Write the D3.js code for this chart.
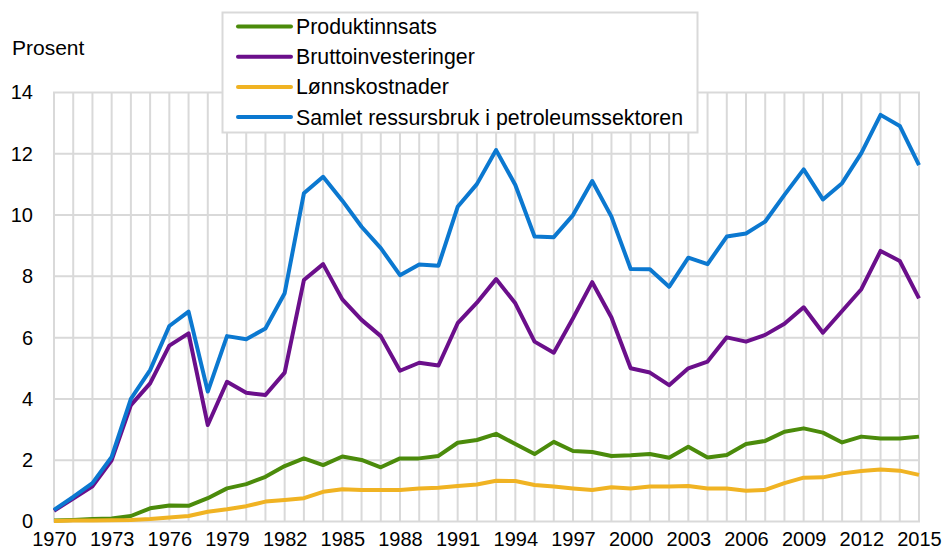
<!doctype html>
<html>
    <head>
        <title>Ressursbruk i petroleumssektoren</title>
        <style>
            body {
                margin: 0;
                overflow: hidden;
                background: #fff;
            }
            text {
                font-family: "Liberation Sans", Arial, sans-serif;
                fill: #000;
            }
        </style>
    </head>
    <body>
        <script src="https://cdn.jsdelivr.net/npm/d3@7"></script>
        <script>

            const years = d3.range(1970, 2016);

            const produktinnsats = [0.03, 0.05, 0.08, 0.1, 0.18, 0.43, 0.52, 0.51, 0.76, 1.08,
                1.22, 1.46, 1.81, 2.06, 1.84, 2.12, 2.01, 1.77, 2.06, 2.06,
                2.14, 2.57, 2.66, 2.86, 2.53, 2.2, 2.6, 2.3, 2.27, 2.14,
                2.16, 2.2, 2.08, 2.44, 2.09, 2.17, 2.53, 2.63, 2.93, 3.04,
                2.9, 2.58, 2.77, 2.71, 2.71, 2.77];

            const bruttoinvesteringer = [0.35, 0.75, 1.15, 2.0, 3.8, 4.51, 5.74, 6.14, 3.15, 4.56,
                4.2, 4.13, 4.86, 7.88, 8.4, 7.25, 6.58, 6.05, 4.92, 5.18,
                5.09, 6.47, 7.14, 7.91, 7.12, 5.87, 5.51, 6.63, 7.81, 6.66,
                5.0, 4.86, 4.45, 5.0, 5.22, 6.01, 5.87, 6.09, 6.45, 6.99,
                6.16, 6.87, 7.58, 8.83, 8.5, 7.28];

            const lonnskostnader = [0.02, 0.03, 0.03, 0.04, 0.05, 0.08, 0.13, 0.18, 0.32, 0.4,
                0.5, 0.65, 0.7, 0.76, 0.97, 1.05, 1.03, 1.03, 1.03, 1.08,
                1.1, 1.16, 1.21, 1.33, 1.32, 1.19, 1.14, 1.08, 1.03, 1.12,
                1.08, 1.14, 1.14, 1.16, 1.08, 1.08, 1.0, 1.03, 1.25, 1.43,
                1.44, 1.57, 1.65, 1.7, 1.66, 1.52];

            const samlet = [0.38, 0.8, 1.25, 2.11, 4.0, 4.94, 6.38, 6.85, 4.24, 6.05,
                5.95, 6.3, 7.45, 10.71, 11.25, 10.47, 9.62, 8.92, 8.04, 8.39,
                8.35, 10.27, 11.01, 12.12, 10.98, 9.3, 9.28, 10.0, 11.11, 9.95,
                8.24, 8.23, 7.66, 8.61, 8.4, 9.3, 9.4, 9.79, 10.66, 11.49,
                10.51, 11.04, 12.02, 13.27, 12.91, 11.63];

            const seriesNames = ['Produktinnsats', 'Bruttoinvesteringer', 'Lønnskostnader',
                'Samlet ressursbruk i petroleumssektoren'];
            const seriesColors = ['#4b8b0b', '#6b0f8b', '#f0b323', '#0b78d0'];
            const seriesValues = [produktinnsats, bruttoinvesteringer, lonnskostnader, samlet];

            const yTicks = [0, 2, 4, 6, 8, 10, 12, 14];
            const xTickYears = d3.range(1970, 2016, 3);

            const width = 943;
            const height = 548;
            const margin = { left: 54, right: 24, top: 92.5, bottom: 26.5 };

            const svg = d3.select('body')
                .append('svg')
                .attr('width', width)
                .attr('height', height);

            const x = d3.scaleLinear()
                .domain([1970, 2015])
                .range([margin.left, width - margin.right]);

            const y = d3.scaleLinear()
                .domain([0, 14])
                .range([height - margin.bottom, margin.top]);

            // grid
            const grid = svg.append('g').attr('stroke', '#d9d9d9').attr('stroke-width', 2);
            grid.selectAll('line.v')
                .data(years)
                .join('line')
                .attr('class', 'v')
                .attr('x1', d => x(d)).attr('x2', d => x(d))
                .attr('y1', y(0)).attr('y2', y(14));
            grid.selectAll('line.h')
                .data(yTicks)
                .join('line')
                .attr('class', 'h')
                .attr('x1', x(1970) - 1).attr('x2', x(2015) + 1)
                .attr('y1', d => y(d)).attr('y2', d => y(d));

            // y axis labels
            const yAxis = svg.append('g')
                .attr('transform', `translate(${margin.left},0)`)
                .call(d3.axisLeft(y).tickValues(yTicks).tickSize(0).tickPadding(21).tickFormat(d3.format('d')));
            yAxis.select('.domain').remove();
            yAxis.selectAll('text').style('font-size', '20px').style('font-family', '"Liberation Sans", Arial, sans-serif');

            // x axis labels
            const xAxis = svg.append('g')
                .attr('transform', `translate(0,${y(0)})`)
                .call(d3.axisBottom(x).tickValues(xTickYears).tickSize(0).tickPadding(10).tickFormat(d3.format('d')));
            xAxis.select('.domain').remove();
            xAxis.selectAll('text').style('font-size', '20px').style('font-family', '"Liberation Sans", Arial, sans-serif');

            svg.append('text')
                .attr('x', 12)
                .attr('y', 55)
                .style('font-size', '21px')
                .text('Prosent');

            // lines
            const line = d3.line()
                .x((d, i) => x(years[i]))
                .y(d => y(d));

            svg.append('g')
                .selectAll('path')
                .data(seriesValues)
                .join('path')
                .attr('d', d => line(d))
                .attr('fill', 'none')
                .attr('stroke', (d, i) => seriesColors[i])
                .attr('stroke-width', 4)
                .attr('stroke-linejoin', 'round');

            // legend
            const legend = svg.append('g');
            legend.append('rect')
                .attr('x', 222.5).attr('y', 12.5)
                .attr('width', 475).attr('height', 120)
                .attr('fill', '#fff')
                .attr('stroke', '#d9d9d9')
                .attr('stroke-width', 2);

            const items = legend.selectAll('g.item')
                .data(seriesNames)
                .join('g')
                .attr('class', 'item')
                .attr('transform', (d, i) => `translate(0,${26.5 + i * 30.2})`);
            items.append('line')
                .attr('x1', 238).attr('x2', 291)
                .attr('stroke', (d, i) => seriesColors[i])
                .attr('stroke-width', 4)
                .attr('stroke-linecap', 'round');
            items.append('text')
                .attr('x', 296)
                .attr('dy', '0.35em')
                .style('font-size', '21.3px')
                .text(d => d);

        </script>
    </body>
</html>
